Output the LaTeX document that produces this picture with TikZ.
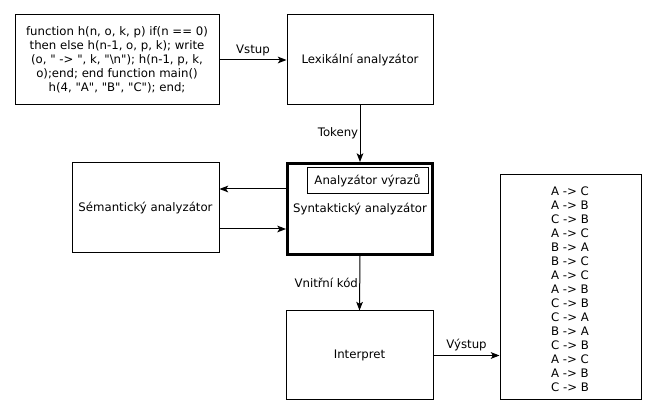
\documentclass[tikz,border=0pt]{standalone}
\usepackage{fontspec}
\setmainfont{DejaVu Sans}[Ligatures=TeXOff]
\usetikzlibrary{positioning,arrows.meta}
\tikzset{
    blok/.style={draw, line width=0.75pt, align=center, inner sep=2pt},
    tok/.style={-{Stealth[length=6.5pt,width=5pt,inset=1.5pt]}, line width=0.75pt},
    popis/.style={inner sep=1pt}
}
\begin{document}
\fontsize{8.8}{10.6}\selectfont
\begin{tikzpicture}[x=0.75pt,y=-0.75pt]
    \useasboundingbox (0,0) rectangle (662,416);
    % bloky
    \node[blok, minimum width=153pt, minimum height=67.5pt] (zdroj) at (117,60)
        {function h(n, o, k, p) if(n == 0)\\ then else h(n-1, o, p, k); write\\(o, " -> ", k, "\textbackslash n"); h(n-1, p, k,\\ o);end; end function main()\\ h(4, "A", "B", "C"); end;};
    \node[blok, minimum width=109.5pt, minimum height=67.5pt] (lex) at (360,60) {Lexikální analyzátor};
    \node[blok, line width=2.25pt, minimum width=108.75pt, minimum height=68.25pt] (syn) at (360,209) {};
    \node[blok, minimum width=90.75pt, minimum height=19.5pt] (vyraz) at (367.5,181) {Analyzátor výrazů};
    \node (syntext) at (360,209) {Syntaktický analyzátor};
    \node[blok, minimum width=110.25pt, minimum height=67.5pt] (sem) at (145.5,208) {Sémantický analyzátor};
    \node[blok, minimum width=110.25pt, minimum height=66.75pt] (int) at (359.5,355.5) {Interpret};
    \node[blok, minimum width=105.75pt, minimum height=168.75pt] (vystup) at (570.5,287.5) {};
    \foreach \t [count=\i] in {A -> C, A -> B, C -> B, A -> C, B -> A, B -> C, A -> C, A -> B, C -> B, C -> A, B -> A, C -> B, A -> C, A -> B, C -> B}{
        \node (radek\i) at (570,177.7+14*\i) {\t};
    };
    % spoje
    \draw[tok] (zdroj.east) -- (lex.west) node[midway, above=2pt, popis] (vstup) {Vstup};
    \draw[tok] (lex.south) -- (syn.north) node[midway, left, popis] (tokeny) {Tokeny};
    \draw[tok] (syn.west |- 0,189) -- (sem.east |- 0,189);
    \draw[tok] (sem.east |- 0,229) -- (syn.west |- 0,229);
    \draw[tok] (syn.south) -- (int.north) node[midway, left, popis] (kod) {Vnitřní kód};
    \draw[tok] (int.east) -- (int.east -| vystup.west) node[midway, above=2pt, popis] (vyst) {Výstup};
\end{tikzpicture}
\end{document}
